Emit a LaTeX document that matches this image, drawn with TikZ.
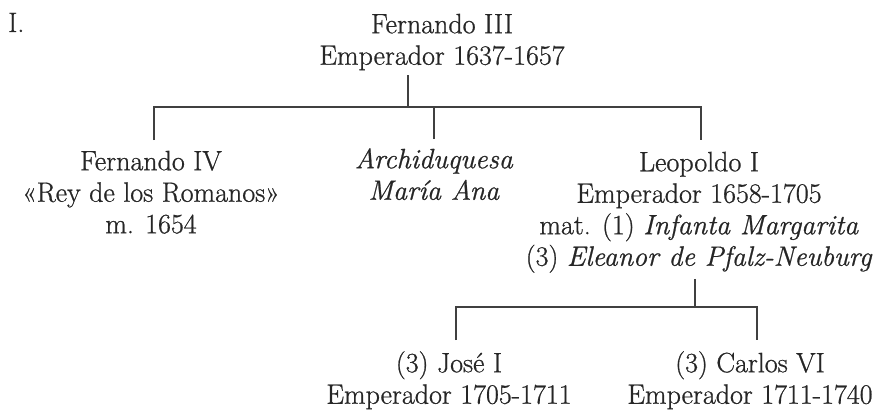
\documentclass[tikz,border=0pt]{standalone}
\usepackage{fontspec}
\setmainfont{Latin Modern Roman}[FakeBold=0.8]
\begin{document}
\begin{tikzpicture}[x=1pt,y=-1pt,
  person/.style={inner sep=0pt, align=center, anchor=north, text=black!85,
    font=\fontsize{28}{31.5}\selectfont},
  link/.style={line width=1.4pt, draw=black!75}]
\useasboundingbox (0,0) rectangle (882,409);
\node[person, anchor=base west] (ttl) at (8,32) {I.};
\node[person] (f3) at (442,11) {\strut Fernando III\\Emperador 1637-1657};
\node[person] (f4) at (151,148) {\strut Fernando IV\\«Rey de los Romanos»\\m. 1654};
\node[person] (ma) at (434,146) {\strut\textit{Archiduquesa}\\\textit{María Ana}};
\node[person] (l1) at (699,149) {\strut Leopoldo I\\Emperador 1658-1705\\mat. (1) \textit{Infanta Margarita}\\(3) \textit{Eleanor de Pfalz-Neuburg}};
\node[person] (jo) at (449,350) {\strut (3) José I\\Emperador 1705-1711};
\node[person] (ca) at (750,350) {\strut (3) Carlos VI\\Emperador 1711-1740};
% junctions
\coordinate (j1) at (408,107);
\coordinate (j1l) at (154,107);
\coordinate (j1m) at (434,107);
\coordinate (j1r) at (701,107);
\coordinate (j2) at (695,307);
\coordinate (j2l) at (456,307);
\coordinate (j2r) at (757,307);
\draw[link] (f3.south -| j1) ++(0,5) -- (j1);
\draw[link] (f4.north -| j1l) ++(0,-8) -- (j1l) -- (j1r) -- ++(0,33);
\draw[link] (ma.north -| j1m) ++(0,-7) -- (j1m);
\draw[link] (l1.south -| j2) ++(0,6) -- (j2);
\draw[link] (jo.north -| j2l) ++(0,-10) -- (j2l) -- (j2r) -- ++(0,33);
\end{tikzpicture}
\end{document}
